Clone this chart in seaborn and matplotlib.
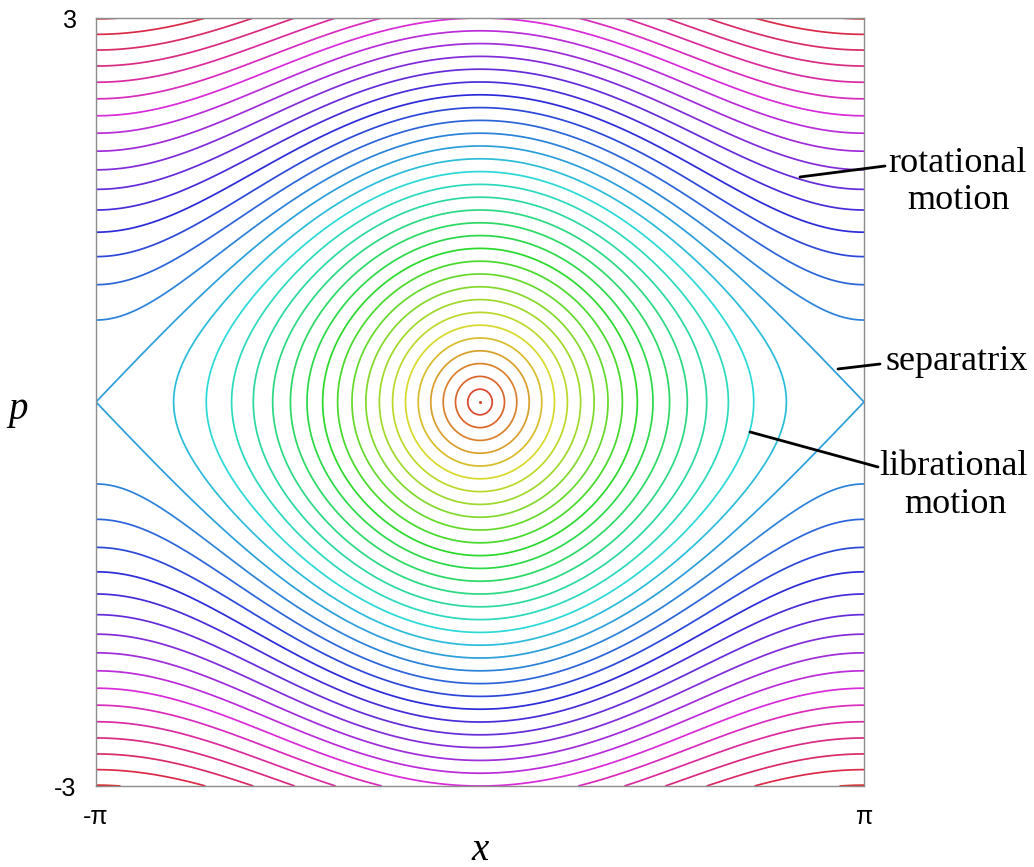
import colorsys
import numpy as np
import matplotlib
matplotlib.use("Agg")
import matplotlib.pyplot as plt
import seaborn as sns

sns.set_theme(style="white")
plt.rcParams['font.family'] = ['Liberation Serif', 'DejaVu Serif']
plt.rcParams['text.color'] = 'black'
plt.rcParams['xtick.color'] = 'black'
plt.rcParams['ytick.color'] = 'black'

# momentum at x=0 of each drawn orbit (pendulum H = p^2/2 - cos x)
p0_levels = [0.1, 0.2, 0.3, 0.4, 0.5, 0.6, 0.7, 0.8, 0.9, 1.0,
             1.1, 1.2, 1.3, 1.4, 1.5, 1.6, 1.7, 1.8, 1.9, 2.0,
             2.1, 2.2, 2.3, 2.4, 2.5, 2.6, 2.7, 2.8, 2.9, 3.0,
             3.1, 3.2, 3.3, 3.4, 3.5, 3.6]
p0_max = 3.6
center_x = [0.0]
center_p = [0.0]

x_lim = (-np.pi, np.pi)
p_lim = (-3, 3)
x_tick_labels = ["-π", "π"]
p_tick_labels = ["-3", "3"]

# annotation lines: point on curve (data) -> end near the label (figure px)
note_lines = [
    ((2.618, 1.758), (885, 166)),
    ((2.929, 0.258), (880, 364)),
    ((2.209, -0.234), (878, 467)),
]
# label lines: text, centre x, baseline y (figure px)
note_texts = [
    ("rotational", 957, 172),
    ("motion", 958, 209),
    ("separatrix", 957, 370),
    ("librational", 953, 475),
    ("motion", 955, 513),
]

W, Hh = 1034, 867
fig = plt.figure(figsize=(W / 100, Hh / 100), dpi=100)
ax = fig.add_axes([96 / W, 1 - 786 / Hh, 768 / W, 768 / Hh])

xs = np.linspace(x_lim[0], x_lim[1], 1201)
ps = np.linspace(p_lim[0], p_lim[1], 1201)
X, P = np.meshgrid(xs, ps)
E = P ** 2 / 2 - np.cos(X)

levels = [p0 ** 2 / 2 - 1 for p0 in p0_levels]
colors = [colorsys.hsv_to_rgb((p0 / p0_max) % 1.0, 0.8, 0.85) for p0 in p0_levels]
ax.contour(X, P, E, levels=levels, colors=colors, linewidths=1.25)
ax.plot(center_x, center_p, 'o', color=colors[0], markersize=1.2)

ax.set_xlim(*x_lim)
ax.set_ylim(*p_lim)
ax.set_xticks(list(x_lim))
ax.set_xticklabels(x_tick_labels, fontfamily='Liberation Sans', fontsize=18)
ax.set_yticks(list(p_lim))
ax.set_yticklabels(p_tick_labels, fontfamily='Liberation Sans', fontsize=18)
ax.tick_params(length=0, pad=14)
for s in ax.spines.values():
    s.set_color('#8c8c8c')
    s.set_linewidth(1.0)

fig.text(18 / W, 1 - 410 / Hh, "p", style='italic', fontsize=28, ha='center', va='center')
fig.text(480 / W, 1 - 850 / Hh, "x", style='italic', fontsize=28, ha='center', va='center')

for text, cx, by in note_texts:
    fig.text(cx / W, 1 - by / Hh, text, ha='center', va='baseline', fontsize=26)

for xy, end in note_lines:
    ax.annotate("", xy=xy, xycoords='data',
                xytext=(end[0] / W, 1 - end[1] / Hh), textcoords='figure fraction',
                arrowprops=dict(arrowstyle='-', color='black', lw=2.0,
                                shrinkA=0, shrinkB=0),
                annotation_clip=False)

fig.savefig("out.png", dpi=100)
